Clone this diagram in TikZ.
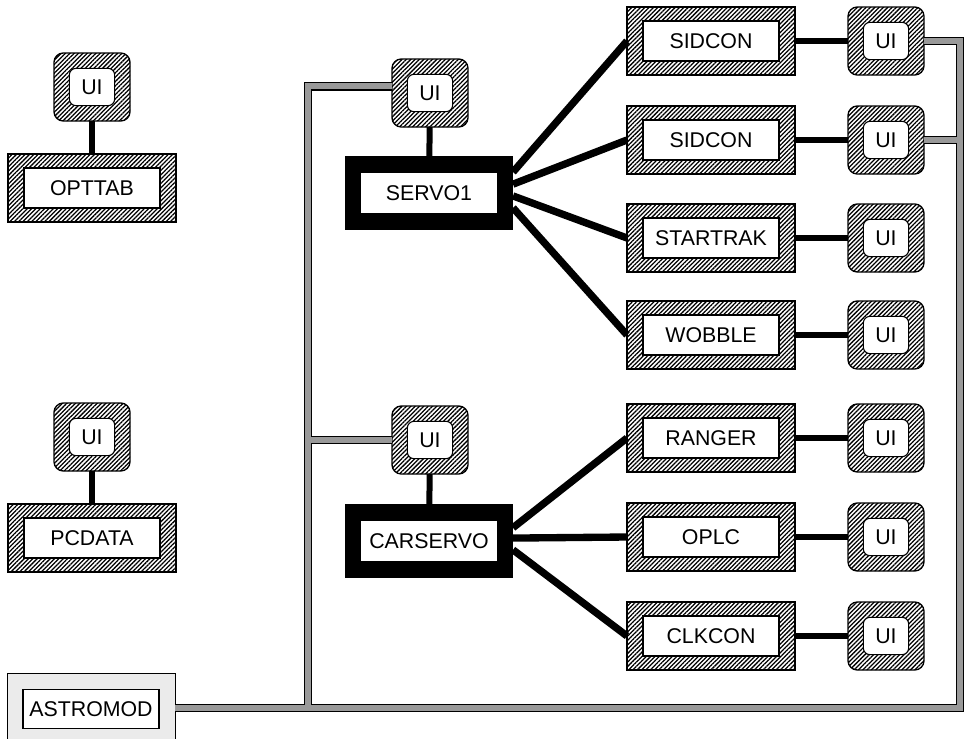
\documentclass[tikz,border=0pt]{standalone}
\usepackage{fontspec}
\setmainfont{Liberation Sans}
\usetikzlibrary{patterns.meta}

\newcommand{\boxfont}{\fontsize{16}{19}\selectfont}

\tikzset{
  hatch/.style={pattern={Lines[angle=45,distance=2.3pt,line width=0.95pt]}},
  module/.style={rectangle, draw, line width=1pt, hatch, inner sep=0pt, outer sep=0pt,
    minimum width=126pt, minimum height=51pt, font=\boxfont,
    path picture={\draw[fill=white,line width=0.8pt]
      ([shift={(12pt,10.5pt)}]path picture bounding box.south west) rectangle
      ([shift={(-12pt,-10.5pt)}]path picture bounding box.north east);}},
  servo/.style={rectangle, fill=black, inner sep=0pt, outer sep=0pt,
    minimum width=126pt, minimum height=55pt, font=\boxfont,
    path picture={\fill[white]
      ([shift={(12pt,12.4pt)}]path picture bounding box.south west) rectangle
      ([shift={(-12pt,-12.4pt)}]path picture bounding box.north east);}},
  ui/.style={rectangle, rounded corners=7pt, draw, line width=1pt, hatch, inner sep=0pt,
    outer sep=0pt, minimum width=57pt, minimum height=51pt, font=\boxfont,
    path picture={\draw[fill=white,line width=0.8pt,rounded corners=5pt]
      ([shift={(11.5pt,11.5pt)}]path picture bounding box.south west) rectangle
      ([shift={(-11.5pt,-11.5pt)}]path picture bounding box.north east);}},
  astro/.style={rectangle, draw, line width=0.5pt, fill=black!8, inner sep=0pt, outer sep=0pt,
    minimum width=126pt, minimum height=54pt, font=\boxfont,
    path picture={\draw[fill=white,line width=1pt]
      ([shift={(12pt,12.5pt)}]path picture bounding box.south west) rectangle
      ([shift={(-12pt,-12.5pt)}]path picture bounding box.north east);}},
  link/.style={line width=4.5pt},
  fan/.style={line width=5.5pt},
  bus/.style={line width=1.2pt, double=black!40, double distance=4.3pt}
}

\begin{document}
\begin{tikzpicture}[x=0.75pt,y=-0.75pt]
  \useasboundingbox (0,0) rectangle (964,739);
  \clip (0,0) rectangle (964,739);

  % left column
  \node[ui] (uiopt) at (92,87) {UI};
  \node[module] (opttab) at (92,188) {OPTTAB};
  \node[ui] (uipc) at (92,437) {UI};
  \node[module] (pcdata) at (92,538) {PCDATA};
  \node[astro] (astromod) at (91,709) {ASTROMOD};
  \draw[link] (uiopt) -- (opttab);
  \draw[link] (uipc) -- (pcdata);

  % servos
  \node[ui] (uiservo) at (430,93) {UI};
  \node[servo] (servo1) at (429,193) {SERVO1};
  \node[ui] (uicar) at (430,440) {UI};
  \node[servo] (carservo) at (429,541) {CARSERVO};
  \draw[link] (uiservo) -- (servo1);
  \draw[link] (uicar) -- (carservo);

  % right column
  \foreach \name/\txt/\y in {sidA/SIDCON/41, sidB/SIDCON/140, startrak/STARTRAK/238,
      wobble/WOBBLE/335, ranger/RANGER/438, oplc/OPLC/537, clkcon/CLKCON/636} {
    \node[module] (\name) at (711,\y) {\txt};
    \node[ui] (ui\name) at (886,\y) {UI};
    \draw[link] (\name) -- (ui\name);
  }

  \draw[fan] (servo1.14) -- (sidA.west);
  \draw[fan] (servo1.6) -- (sidB.west);
  \draw[fan] (servo1.-2) -- (startrak.west);
  \draw[fan] (servo1.-10) -- (wobble.west);
  \draw[fan] (carservo.9) -- (ranger.west);
  \draw[fan] (carservo.2) -- (oplc.west);
  \draw[fan] (carservo.-6) -- (clkcon.west);

  % bus
  \coordinate (busL) at (308,708);
  \coordinate (busR) at (960,708);
  \draw[bus] (uiservo.170) -| (busL)
    (uicar.west) -- (uicar.west -| busL)
    (astromod.east |- busL) -- (busR) |- (uisidA.east)
    (uisidB.east) -- (uisidB.east -| busR);
\end{tikzpicture}
\end{document}
